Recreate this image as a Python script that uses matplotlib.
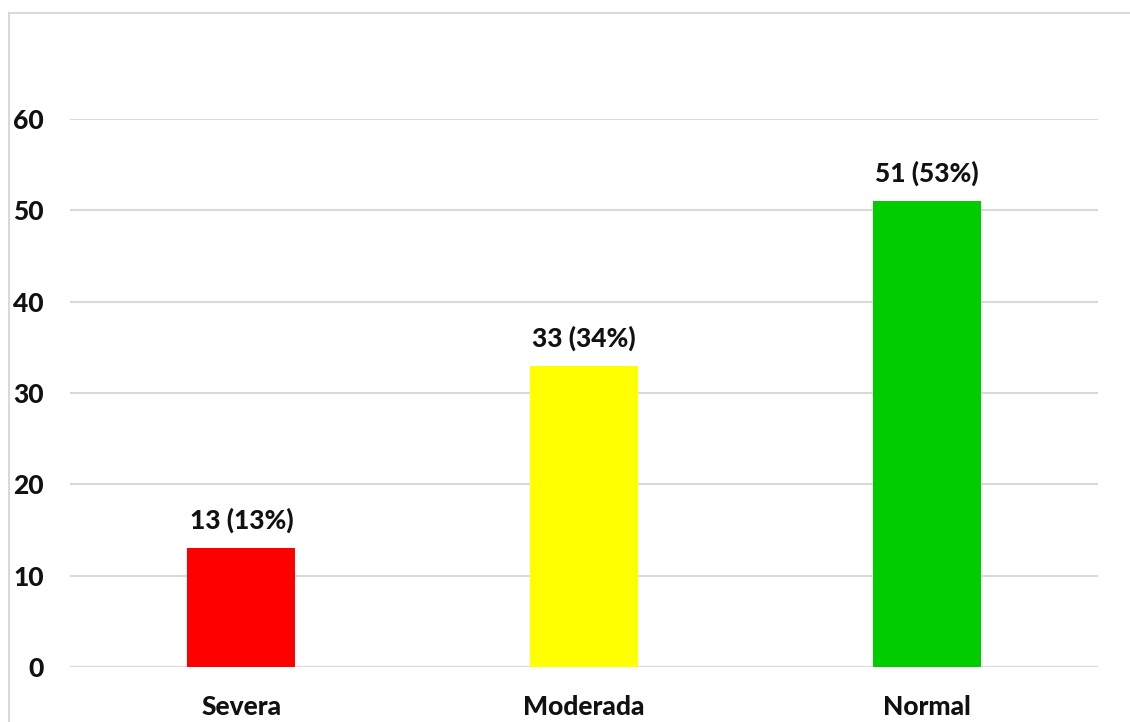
import matplotlib
matplotlib.use("Agg")
import matplotlib.pyplot as plt
from matplotlib.lines import Line2D

categories = ["Severa", "Moderada", "Normal"]
counts = [13, 33, 51]
percents = [13, 34, 53]
bar_colors = ["#FF0000", "#FFFF00", "#00CC00"]
yticks = [0, 10, 20, 30, 40, 50, 60]

plt.rcParams["font.family"] = ["Lato", "DejaVu Sans"]

W, H = 1130, 722
fig = plt.figure(figsize=(W / 100, H / 100), dpi=100)
ax = fig.add_axes([70 / W, (H - 667) / H, (1098 - 70) / W, (667 - 119) / H])

x = list(range(len(categories)))
ax.bar(x, counts, width=0.315, color=bar_colors, zorder=3)

for xi, c, p in zip(x, counts, percents):
    ax.annotate(f"{c} ({p}%)", (xi, c), xytext=(0, 15), textcoords="offset pixels",
                ha="center", va="bottom", fontsize=19, fontweight="black", color="#111111")

ax.set_xlim(-0.5, 2.5)
ax.set_ylim(0, 60)
ax.set_yticks(yticks)
ax.set_xticks(x)
ax.set_xticklabels(categories)
ax.yaxis.grid(True, color="#D9D9D9", linewidth=1.5, zorder=0)
ax.set_axisbelow(True)
for s in ax.spines.values():
    s.set_visible(False)
ax.tick_params(axis="both", length=0, labelsize=19, colors="#111111")
ax.tick_params(axis="y", pad=19)
ax.tick_params(axis="x", pad=20)
for lbl in ax.get_xticklabels() + ax.get_yticklabels():
    lbl.set_fontweight("black")
# baseline at zero drawn as a gridline
ax.axhline(0, color="#D9D9D9", linewidth=1.5, zorder=1)

# chart frame (top and left edges)
fig.add_artist(Line2D([8.5 / W, 1.0], [1 - 12.5 / H, 1 - 12.5 / H],
                      transform=fig.transFigure, color="#D9D9D9", linewidth=1.5))
fig.add_artist(Line2D([8.5 / W, 8.5 / W], [0, 1 - 12.5 / H],
                      transform=fig.transFigure, color="#D9D9D9", linewidth=1.5))

fig.savefig("out.png", dpi=100, facecolor="white")
